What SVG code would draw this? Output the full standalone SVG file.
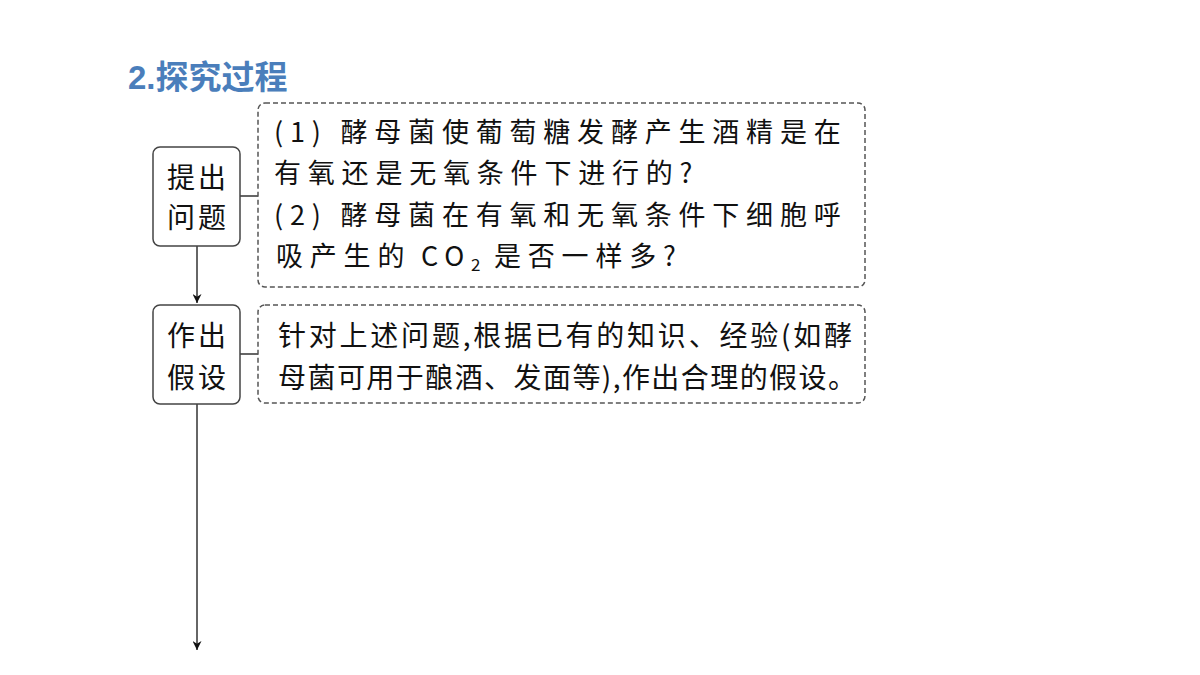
<svg xmlns="http://www.w3.org/2000/svg" width="1200" height="675" viewBox="0 0 1200 675">
<defs>
<marker id="arr" viewBox="0 0 10 10" refX="10" refY="5" markerWidth="9" markerHeight="9" markerUnits="userSpaceOnUse" orient="auto">
<path d="M0,0 L10,5 L0,10 L3,5 z" fill="#111"/>
</marker>
<style>
.title{font-family:"Liberation Sans","Noto Sans CJK SC",sans-serif;font-weight:bold;font-size:33px;fill:#4a7ebb}
.box{fill:#fff;stroke:#444;stroke-width:1.5}
.dash{fill:#fff;stroke:#555;stroke-width:1.5;stroke-dasharray:5 3}
.lbl{font-family:"Noto Sans CJK SC",sans-serif;font-size:28px;fill:#111;letter-spacing:3px}
.txt{font-family:"Noto Sans CJK SC",sans-serif;font-size:27px;fill:#111;letter-spacing:6.8px}
.txt2{font-family:"Noto Sans CJK SC",sans-serif;font-size:28px;fill:#111}
.ln{stroke:#333;stroke-width:1.5;fill:none}
</style>
</defs>
<rect width="1200" height="675" fill="#fff"/>
<text class="title" x="128" y="89">2.探究过程</text>
<g id="connectors">
<line class="ln" x1="240" y1="196" x2="258" y2="196"/>
<line class="ln" x1="240" y1="354" x2="258" y2="354"/>
<line class="ln" x1="197" y1="246" x2="197" y2="303" marker-end="url(#arr)"/>
<line class="ln" x1="197" y1="404" x2="197" y2="650" marker-end="url(#arr)"/>
</g>
<g id="n1">
<rect class="box" x="153" y="147" width="87" height="99" rx="7"/>
<text class="lbl" x="198" y="188" text-anchor="middle">提出</text>
<text class="lbl" x="198" y="228" text-anchor="middle">问题</text>
</g>
<g id="d1">
<rect class="dash" x="258" y="103" width="607" height="184" rx="7"/>
<text class="txt" x="274" y="142">(1) 酵母菌使葡萄糖发酵产生酒精是在</text>
<text class="txt" x="274" y="183">有氧还是无氧条件下进行的?</text>
<text class="txt" x="274" y="225">(2) 酵母菌在有氧和无氧条件下细胞呼</text>
<text class="txt" x="276" y="266">吸产生的<tspan x="421">CO</tspan><tspan font-size="17" dy="5">2</tspan><tspan x="494" dy="-5">是否一样多?</tspan></text>
</g>
<g id="n2">
<rect class="box" x="153" y="305" width="87" height="99" rx="7"/>
<text class="lbl" x="198" y="346" text-anchor="middle">作出</text>
<text class="lbl" x="198" y="388" text-anchor="middle">假设</text>
</g>
<g id="d2">
<rect class="dash" x="258" y="305" width="607" height="98" rx="7"/>
<text class="txt2" x="278" y="346" textLength="574" lengthAdjust="spacing">针对上述问题,根据已有的知识、经验(如酵</text>
<text class="txt2" x="278" y="388" textLength="578" lengthAdjust="spacing">母菌可用于酿酒、发面等),作出合理的假设。</text>
</g>
</svg>
